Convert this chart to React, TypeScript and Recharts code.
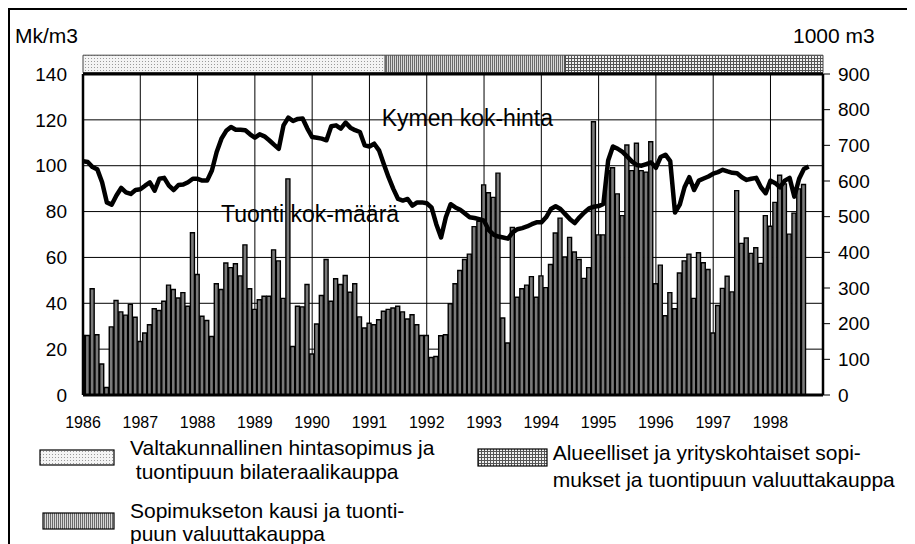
import React from "react";
import {
  ComposedChart,
  Bar,
  Line,
  XAxis,
  YAxis,
  CartesianGrid,
  ReferenceArea,
  ReferenceLine,
} from "recharts";

// x axis labels, one per year, a tick every 12 months
const years = ["1986", "1987", "1988", "1989", "1990", "1991", "1992", "1993", "1994", "1995", "1996", "1997", "1998"];

// Tuonti kok-määrä, 1000 m3, monthly from Jan 1986
const importVolume = [
  167, 167, 298, 169, 87, 21, 191, 265, 233, 224, 254, 218,
  150, 174, 197, 242, 237, 263, 308, 296, 272, 287, 249, 455,
  338, 221, 209, 164, 312, 296, 370, 357, 368, 334, 421, 298,
  240, 267, 277, 277, 407, 376, 271, 606, 136, 249, 247, 310,
  115, 199, 279, 380, 263, 326, 310, 335, 288, 312, 219, 188,
  201, 197, 211, 235, 240, 244, 249, 233, 213, 225, 197, 167,
  167, 105, 108, 166, 169, 256, 312, 349, 380, 395, 472, 487,
  589, 567, 554, 622, 216, 146, 470, 274, 298, 308, 332, 274,
  334, 301, 366, 454, 496, 387, 442, 401, 380, 327, 357, 766,
  449, 449, 629, 637, 564, 503, 701, 629, 706, 629, 625, 710,
  312, 364, 222, 287, 242, 342, 376, 395, 271, 399, 371, 352,
  174, 251, 299, 333, 289, 573, 425, 440, 397, 413, 369, 503,
  473, 540, 616, 592, 451, 510, 578, 590,
];

// Kymen kok-hinta, Mk/m3, monthly from Jan 1986
const kymenPrice = [
  102.0, 101.6, 99.4, 98.4, 92.8, 84.0, 83.0, 87.0, 90.3, 88.4, 87.7, 89.4,
  89.7, 91.3, 92.7, 89.1, 94.3, 94.7, 91.3, 89.4, 91.6, 91.8, 92.8, 94.3,
  94.3, 93.5, 93.5, 97.9, 106.0, 111.8, 115.2, 116.9, 115.7, 115.7, 115.5, 113.7,
  112.2, 113.7, 112.8, 111.1, 109.2, 107.4, 117.6, 121.0, 119.5, 120.4, 120.6, 116.2,
  112.5, 112.2, 111.8, 111.1, 117.2, 117.6, 116.2, 118.8, 116.6, 115.5, 114.7, 108.9,
  108.4, 109.6, 106.7, 100.8, 95.0, 89.9, 85.5, 84.8, 85.5, 82.6, 84.0, 84.0,
  83.6, 81.8, 74.5, 68.7, 77.5, 83.2, 81.8, 80.8, 79.2, 77.5, 77.2, 76.7,
  76.0, 71.9, 69.9, 69.1, 68.7, 68.2, 70.9, 72.3, 72.8, 73.5, 74.5, 75.3,
  75.3, 77.5, 81.1, 82.3, 81.1, 78.9, 76.7, 75.0, 77.5, 79.6, 81.4, 82.1,
  82.4, 83.3, 102.3, 108.4, 107.4, 106.0, 104.0, 101.8, 100.3, 100.0, 100.7, 101.4,
  99.1, 103.8, 104.8, 102.0, 79.6, 83.0, 90.6, 95.0, 89.4, 93.5, 94.4, 95.3,
  96.5, 97.2, 98.2, 97.5, 96.9, 96.7, 95.0, 93.8, 94.3, 94.7, 90.6, 88.0,
  93.5, 92.4, 90.6, 93.5, 94.7, 86.5, 94.3, 98.6, 99.7,
];

const leftTicks = [0, 20, 40, 60, 80, 100, 120, 140];
const rightTicks = [0, 100, 200, 300, 400, 500, 600, 700, 800, 900];

// contract periods shown in the band above the plot (month index from Jan 1986)
const periodBounds = [0, 63.3, 101, 155];
const periodLabels = [
  ["Valtakunnallinen hintasopimus ja", " tuontipuun bilateraalikauppa"],
  ["Sopimukseton kausi ja tuonti-", "puun valuuttakauppa"],
  ["Alueelliset ja yrityskohtaiset sopi-", "mukset ja tuontipuun valuuttakauppa"],
];

const FONT = "'Liberation Sans', Arial, sans-serif";
const periodFills = ["url(#pDots)", "url(#pVert)", "url(#pGrid)"];

const chartData = kymenPrice.map((price, i) => ({
  m: i,
  price,
  volume: importVolume[i] ?? null,
}));

function Patterns() {
  return (
    <svg width={0} height={0} style={{ position: "absolute" }}>
      <defs>
        <pattern id="pDots" width={3} height={3} patternUnits="userSpaceOnUse">
          <rect width={3} height={3} fill="#f4f4f4" />
          <rect width={1} height={1} fill="#9a9a9a" />
        </pattern>
        <pattern id="pVert" width={2} height={2} patternUnits="userSpaceOnUse">
          <rect width={2} height={2} fill="#d8d8d8" />
          <rect width={1} height={2} fill="#6a6a6a" />
        </pattern>
        <pattern id="pGrid" width={3} height={3} patternUnits="userSpaceOnUse">
          <rect width={3} height={3} fill="#f0f0f0" />
          <rect width={3} height={1} fill="#555" />
          <rect width={1} height={3} fill="#555" />
        </pattern>
      </defs>
    </svg>
  );
}

function Overlay() {
  // texts and the period legend, coordinates relative to the framed box
  const legendBoxes = [
    { x: 30, y: 440, w: 74, h: 15, tx: 120, ty: [444.5, 468.7] },
    { x: 33, y: 503, w: 71, h: 16, tx: 120, ty: [508.3, 531.3] },
    { x: 468, y: 439, w: 69, h: 17, tx: 542.7, ty: [450, 477] },
  ];
  return (
    <svg width={905} height={540} style={{ position: "absolute", left: 0, top: 0 }}>
      <g fontFamily={FONT} fill="#000">
        <text x={5} y={33} fontSize={21}>Mk/m3</text>
        <text x={783} y={33} fontSize={21}>1000 m3</text>
        <text x={371.7} y={116} fontSize={23}>Kymen kok-hinta</text>
        <text x={211} y={212} fontSize={23}>Tuonti kok-määrä</text>
        {legendBoxes.map((b, k) => (
          <g key={k}>
            <rect x={b.x} y={b.y} width={b.w} height={b.h} fill={periodFills[k]} stroke="#000" strokeWidth={1.2} />
            {periodLabels[k].map((line, j) => (
              <text key={j} x={b.tx} y={b.ty[j]} fontSize={21} style={{ whiteSpace: "pre" }}>
                {line}
              </text>
            ))}
          </g>
        ))}
      </g>
    </svg>
  );
}

export default function App() {
  const yearTicks = years.map((_, k) => k * 12);
  return (
    <div
      style={{
        position: "relative",
        width: 920,
        height: 560,
        borderTop: "2px solid #000",
        borderLeft: "2px solid #000",
        fontFamily: FONT,
      }}
    >
      <style>{"html,body{overflow:hidden}"}</style>
      <Patterns />
      <Overlay />
      <div style={{ position: "absolute", left: 0, top: 0 }}>
        <ComposedChart
          width={895}
          height={430}
          data={chartData}
          margin={{ top: 64, right: 0, bottom: 0, left: 0 }}
        >
          <CartesianGrid yAxisId="left" stroke="#000" strokeWidth={1} />
          <XAxis
            dataKey="m"
            type="number"
            domain={[0, 155]}
            allowDataOverflow
            ticks={yearTicks}
            interval={0}
            tickFormatter={(v: number) => years[Math.round(v / 12)]}
            tickLine={false}
            tickSize={0}
            tickMargin={22}
            height={45}
            axisLine={{ stroke: "#000", strokeWidth: 3 }}
            tick={{ fontSize: 16, fill: "#000", fontFamily: FONT }}
          />
          <YAxis
            yAxisId="left"
            domain={[0, 140]}
            ticks={leftTicks}
            interval={0}
            width={73}
            tickLine={false}
            tickSize={0}
            tickMargin={16}
            axisLine={{ stroke: "#000", strokeWidth: 2.5 }}
            tick={{ fontSize: 19, fill: "#000", fontFamily: FONT }}
          />
          <YAxis
            yAxisId="right"
            orientation="right"
            domain={[0, 900]}
            ticks={rightTicks}
            interval={0}
            width={82}
            tickSize={7}
            tickMargin={8}
            tickLine={{ stroke: "#000", strokeWidth: 1 }}
            axisLine={{ stroke: "#000", strokeWidth: 2.5 }}
            tick={{ fontSize: 19, fill: "#000", fontFamily: FONT }}
          />
          {periodBounds.slice(0, -1).map((b, k) => (
            <ReferenceArea
              key={k}
              yAxisId="left"
              x1={b}
              x2={periodBounds[k + 1]}
              y1={140.6}
              y2={148.2}
              ifOverflow="visible"
              fill={periodFills[k]}
              fillOpacity={1}
              stroke="#444"
              strokeWidth={1}
            />
          ))}
          <Bar
            yAxisId="right"
            dataKey="volume"
            barSize={4}
            fill="#7a7a7a"
            stroke="#000"
            strokeWidth={1.4}
            isAnimationActive={false}
          />
          <Line
            yAxisId="left"
            type="linear"
            dataKey="price"
            stroke="#000"
            strokeWidth={4.5}
            dot={false}
            strokeLinejoin="round"
            isAnimationActive={false}
          />
          <ReferenceLine yAxisId="left" y={140} stroke="#000" strokeWidth={3} />
        </ComposedChart>
      </div>
    </div>
  );
}
